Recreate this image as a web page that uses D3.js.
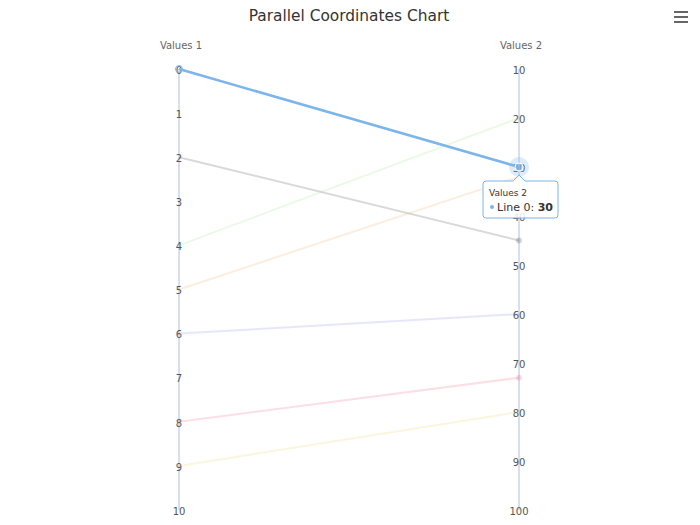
<!DOCTYPE html>
<html>
<head>
<meta charset="utf-8">
<script src="https://cdn.jsdelivr.net/npm/d3@7/dist/d3.min.js"></script>
<style>
  body { margin: 0; background: #fff; }
  svg { font-family: "DejaVu Sans", "Lucida Grande", sans-serif; }
</style>
</head>
<body>
<svg id="chart" width="700" height="525"></svg>
<script>

var dimensions = ['Values 1', 'Values 2'];
var lineNames = ['Line 0', 'Line 1', 'Line 2', 'Line 3', 'Line 4', 'Line 5', 'Line 6'];
var values1 = [0, 2, 4, 5, 6, 8, 9];
var values2 = [30, 45, 20, 32, 60, 73, 80];
var ticks1 = [0, 1, 2, 3, 4, 5, 6, 7, 8, 9, 10];
var ticks2 = [10, 20, 30, 40, 50, 60, 70, 80, 90, 100];
var colors = ['#7cb5ec', '#434348', '#90ed7d', '#f7a35c', '#8085e9', '#f15c80', '#e4d354'];
var hovered = 0;

var svg = d3.select('#chart'),
    yTop = 69, yBottom = 510;

var x = d3.scalePoint()
      .domain(dimensions)
      .range([179, 519]);

var yScales = [
  d3.scaleLinear().domain([ticks1[0], ticks1[ticks1.length - 1]]).range([yTop, yBottom]),
  d3.scaleLinear().domain([ticks2[0], ticks2[ticks2.length - 1]]).range([yTop, yBottom])
];
var tickSets = [ticks1, ticks2];
var series = [values1, values2];

svg.append('text')
    .attr('x', 349)
    .attr('y', 21)
    .attr('text-anchor', 'middle')
    .attr('font-size', 15.4)
    .attr('fill', '#333')
    .text('Parallel Coordinates Chart');

// menu icon
for (var m = 0; m < 3; m++) {
  svg.append('line')
      .attr('x1', 674).attr('x2', 688)
      .attr('y1', 12 + m * 5).attr('y2', 12 + m * 5)
      .attr('stroke', '#666')
      .attr('stroke-width', 2);
}

// axes
dimensions.forEach(function(dim, i) {
  var g = svg.append('g')
      .attr('transform', 'translate(' + x(dim) + ',0)');

  g.append('line')
      .attr('y1', yTop).attr('y2', yBottom)
      .attr('stroke', '#adc0e4')
      .attr('stroke-width', 1);

  g.append('text')
      .attr('x', 2)
      .attr('y', 49)
      .attr('text-anchor', 'middle')
      .attr('font-size', 10)
      .attr('fill', '#666')
      .text(dim);

  var axis = d3.axisRight(yScales[i])
        .tickValues(tickSets[i])
        .tickSize(0)
        .tickPadding(0);

  var ag = g.append('g').call(axis);
  ag.select('.domain').remove();
  ag.selectAll('text')
      .attr('x', 0)
      .attr('dy', '0.42em')
      .attr('text-anchor', 'middle')
      .attr('font-size', 10)
      .attr('font-family', '"DejaVu Sans", sans-serif')
      .attr('fill', '#555');
});

var lineFunction = d3.line()
      .x(function(d) { return d.x; })
      .y(function(d) { return d.y; });

function points(k) {
  return dimensions.map(function(dim, i) {
    return { x: x(dim), y: yScales[i](series[i][k]) };
  });
}

// inactive lines
lineNames.forEach(function(name, k) {
  if (k === hovered) return;
  svg.append('path')
      .attr('d', lineFunction(points(k)))
      .attr('stroke', colors[k])
      .attr('stroke-width', 2)
      .attr('stroke-opacity', 0.2)
      .attr('fill', 'none');
});

// faded markers on second axis
[1, 5].forEach(function(k) {
  svg.append('circle')
      .attr('cx', x(dimensions[1]))
      .attr('cy', yScales[1](values2[k]))
      .attr('r', 3)
      .attr('fill', colors[k])
      .attr('fill-opacity', 0.22);
});

// hovered line
var hp = points(hovered);
svg.append('path')
    .attr('d', lineFunction(hp))
    .attr('stroke', colors[hovered])
    .attr('stroke-width', 2.5)
    .attr('fill', 'none');

svg.append('circle')
    .attr('cx', hp[0].x).attr('cy', hp[0].y)
    .attr('r', 3.5)
    .attr('fill', 'none')
    .attr('stroke', colors[hovered])
    .attr('stroke-width', 1);

svg.append('circle')
    .attr('cx', hp[1].x).attr('cy', hp[1].y)
    .attr('r', 10)
    .attr('fill', colors[hovered])
    .attr('fill-opacity', 0.25);

svg.append('circle')
    .attr('cx', hp[1].x).attr('cy', hp[1].y)
    .attr('r', 4)
    .attr('fill', colors[hovered])
    .attr('fill-opacity', 0.6)
    .attr('stroke', '#fff')
    .attr('stroke-width', 1);

// tooltip
var tx = hp[1].x, ty = hp[1].y + 14,
    tl = tx - 36, tr = tx + 39, tb = ty + 37;
var tip = svg.append('g');
tip.append('path')
    .attr('d', 'M' + (tl + 3) + ',' + ty + 'L' + (tx - 6) + ',' + ty + 'L' + tx + ',' + (ty - 6) +
               'L' + (tx + 6) + ',' + ty + 'L' + (tr - 3) + ',' + ty + 'Q' + tr + ',' + ty + ' ' + tr + ',' + (ty + 3) +
               'L' + tr + ',' + (tb - 3) + 'Q' + tr + ',' + tb + ' ' + (tr - 3) + ',' + tb +
               'L' + (tl + 3) + ',' + tb + 'Q' + tl + ',' + tb + ' ' + tl + ',' + (tb - 3) +
               'L' + tl + ',' + (ty + 3) + 'Q' + tl + ',' + ty + ' ' + (tl + 3) + ',' + ty + 'Z')
    .attr('fill', 'rgba(255,255,255,0.85)')
    .attr('stroke', colors[hovered])
    .attr('stroke-width', 1);

tip.append('text')
    .attr('x', tl + 6).attr('y', ty + 15)
    .attr('font-size', 9)
    .attr('fill', '#333')
    .text(dimensions[1]);

tip.append('circle')
    .attr('cx', tl + 9).attr('cy', ty + 26)
    .attr('r', 2)
    .attr('fill', colors[hovered]);

var t2 = tip.append('text')
    .attr('x', tl + 14).attr('y', ty + 30)
    .attr('font-size', 11)
    .attr('fill', '#333');
t2.append('tspan').text(lineNames[hovered] + ': ');
t2.append('tspan').attr('font-weight', 'bold').text(values2[hovered]);

</script>
</body>
</html>
